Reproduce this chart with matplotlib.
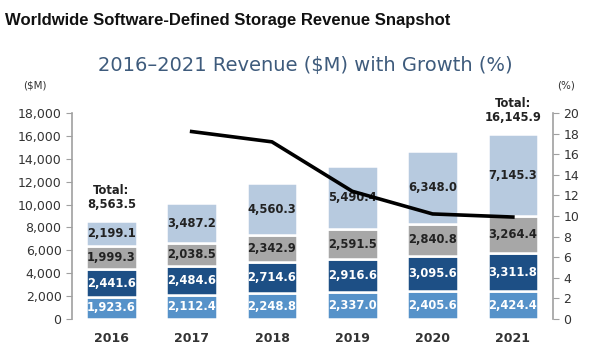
import numpy as np
import matplotlib
matplotlib.use("Agg")
import matplotlib.pyplot as plt

years = ["2016", "2017", "2018", "2019", "2020", "2021"]
# stacked segments, bottom to top ($M)
seg1 = [1923.6, 2112.4, 2248.8, 2337.0, 2405.6, 2424.4]
seg2 = [2441.6, 2484.6, 2714.6, 2916.6, 3095.6, 3311.8]
seg3 = [1999.3, 2038.5, 2342.9, 2591.5, 2840.8, 3264.4]
seg4 = [2199.1, 3487.2, 4560.3, 5490.4, 6348.0, 7145.3]
growth = [np.nan, 18.2, 17.2, 12.4, 10.2, 9.9]  # %
total_idx = [0, 5]
total_vals = [8563.5, 16145.9]

seg_colors = ["#5692c9", "#1d4f85", "#a7a7a7", "#b7cadf"]
txt_colors = ["white", "white", "#222222", "#222222"]

fig = plt.figure(figsize=(5.98, 3.54), dpi=100)
ax = fig.add_axes([72/598, 35/354, 481/598, 206/354])
ax2 = ax.twinx()

x = np.arange(len(years))
bottom = np.zeros(len(years))
for vals, c, tc in zip([seg1, seg2, seg3, seg4], seg_colors, txt_colors):
    ax.bar(x, vals, width=0.63, bottom=bottom, color=c,
           edgecolor="white", linewidth=1.8, zorder=2)
    for xi, b, v in zip(x, bottom, vals):
        ax.text(xi, b + v / 2, f"{v:,.1f}", ha="center", va="center",
                color=tc, fontsize=8.3, fontweight="bold", zorder=3)
    bottom += np.array(vals)

for i, t in zip(total_idx, total_vals):
    ax.text(x[i], bottom[i] + 900, f"Total:\n{t:,.1f}", ha="center",
            va="bottom", fontsize=8.3, fontweight="bold", color="#222222",
            linespacing=1.1)

ax2.plot(x, growth, color="black", lw=2.6, zorder=5)
ax2.set_zorder(ax.get_zorder() + 1)
ax2.patch.set_visible(False)

ax.set_xlim(-0.49, 5.5)
ax.set_ylim(0, 18000)
ax2.set_ylim(0, 20)
ax.set_yticks(np.arange(0, 18001, 2000))
ax.set_yticklabels([f"{v:,}" for v in range(0, 18001, 2000)])
ax2.set_yticks(np.arange(0, 21, 2))
ax.set_xticks(x)
ax.set_xticklabels(years, fontweight="bold")

for a in (ax, ax2):
    for s in ["top", "bottom"]:
        a.spines[s].set_visible(False)
ax.spines["right"].set_visible(False)
ax2.spines["left"].set_visible(False)
ax.spines["left"].set_color("#a0a0a0")
ax2.spines["right"].set_color("#a0a0a0")
ax.spines["left"].set_linewidth(1.2)
ax2.spines["right"].set_linewidth(1.2)
ax.tick_params(axis="y", colors="#a0a0a0", labelcolor="#333333",
               labelsize=9, length=4)
ax2.tick_params(axis="y", colors="#a0a0a0", labelcolor="#333333",
                labelsize=9, length=4)
ax.tick_params(axis="x", length=0, labelsize=9, labelcolor="#333333", pad=9)

fig.text(5/598, 1 - 20/354, "Worldwide Software-Defined Storage Revenue Snapshot",
         ha="left", va="center", fontsize=12, fontweight="bold",
         family="Liberation Sans", color="#111111")
fig.text(305/598, 1 - 65/354, "2016\u20132021 Revenue ($M) with Growth (%)",
         ha="center", va="center", fontsize=14, color="#3e5b7c")
fig.text(35/598, 1 - 86/354, "($M)", ha="center", va="center",
         fontsize=7.5, color="#333333")
fig.text(566/598, 1 - 86/354, "(%)", ha="center", va="center",
         fontsize=7.5, color="#333333")

fig.savefig("out.png", dpi=100, facecolor="white")
